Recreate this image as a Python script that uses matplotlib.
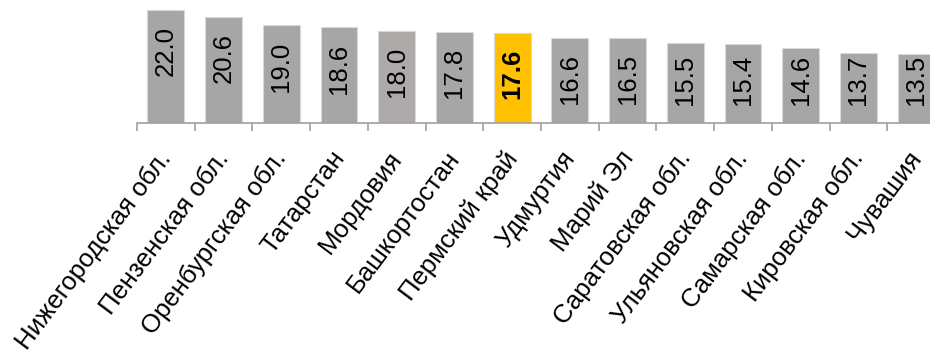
import numpy as np
import matplotlib
matplotlib.use("Agg")
import matplotlib.pyplot as plt
import matplotlib.transforms as mtransforms
from matplotlib.ticker import FixedLocator

# данные
regions = ["Нижегородская обл.", "Пензенская обл.", "Оренбургская обл.", "Татарстан",
           "Мордовия", "Башкортостан", "Пермский край", "Удмуртия", "Марий Эл",
           "Саратовская обл.", "Ульяновская обл.", "Самарская обл.", "Кировская обл.",
           "Чувашия"]
values = [22.0, 20.6, 19.0, 18.6, 18.0, 17.8, 17.6, 16.6, 16.5, 15.5, 15.4, 14.6, 13.7, 13.5]
highlight = "Пермский край"

plt.rcParams['font.family'] = ['Liberation Sans', 'DejaVu Sans']

colors = []
for r in regions:
    if r == highlight:
        colors.append('#FFC000')
    elif r == "Мордовия":
        colors.append('#AEAAAA')
    else:
        colors.append('#A6A6A6')

fig = plt.figure(figsize=(9.3, 3.58), dpi=100)
# ось уходит за правый край, как в исходной картинке
ax = fig.add_axes([137 / 930, 235 / 358, 808 / 930, 123 / 358])

x = np.arange(len(regions))
ax.bar(x, values, width=0.64, color=colors, edgecolor='#D9D9D9', linewidth=0.8, zorder=2)

ax.set_xlim(-0.5, len(regions) - 0.5)
ax.set_ylim(0, 23.95)

for i, v in enumerate(values):
    ypos = max(v - 8.0, 8.4)
    ax.text(i, ypos, f"{v:.1f}", rotation=90, ha='center', va='center',
            fontsize=18.5, color='black',
            fontweight='bold' if regions[i] == highlight else 'normal')

for s in ['top', 'right', 'left']:
    ax.spines[s].set_visible(False)
ax.spines['bottom'].set_color('#A0A0A0')
ax.spines['bottom'].set_linewidth(1.2)
ax.set_yticks([])

ax.set_xticks(x)
ax.set_xticklabels(regions, rotation=53, ha='right', va='top', rotation_mode='anchor', fontsize=18.5)
ax.tick_params(axis='x', which='major', length=0, pad=17)
shift = mtransforms.ScaledTranslation(-9 / 100, 0, fig.dpi_scale_trans)
for lbl in ax.get_xticklabels():
    lbl.set_transform(lbl.get_transform() + shift)
ax.xaxis.set_minor_locator(FixedLocator(np.arange(-0.5, len(regions), 1)))
ax.tick_params(axis='x', which='minor', length=6, width=1.2, color='#A0A0A0', direction='out')

fig.savefig('out.png', dpi=100)
